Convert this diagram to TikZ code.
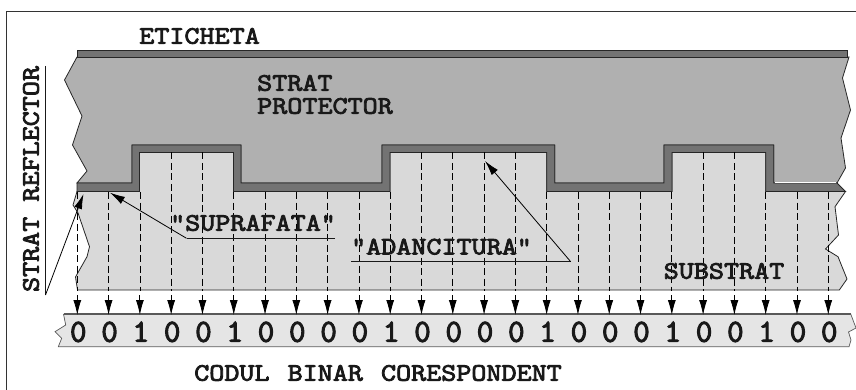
\documentclass[tikz,border=0pt]{standalone}
\usepackage{fontspec}
\newfontfamily\stampfont[FakeStretch=1.17,FakeBold=3.4]{Latin Modern Mono}
\newfontfamily\bitfont[FakeBold=3.4]{Latin Modern Mono}
\usetikzlibrary{arrows.meta}

\begin{document}
\begin{tikzpicture}[
        x=1pt,y=-1pt,
        >=Latex,
        edge/.style={draw=black!85,line width=0.8pt},
        label/.style={font=\stampfont\fontsize{25}{25}\selectfont,inner sep=0pt,text=black!90},
        digit/.style={font=\bitfont\fontsize{32}{32}\selectfont,inner sep=0pt,text=black!90},
        cell/.style={black,dashed,dash pattern=on 7pt off 3.5pt,line width=0.7pt},
        lead/.style={black!90,line width=0.8pt},
        pointer/.style={-{Latex[length=15pt,width=8pt]},black,line width=0.8pt}
    ]
        \useasboundingbox (0,0) rectangle (856,390);

        % frame
        \draw[black!80,line width=1pt] (6.5,390) -- (6.5,11.5) -- (856,11.5);

        % substrat
        \filldraw[edge,fill=black!15] (77,191.5) -- (73,205) -- (78,213) -- (89.5,246.7) -- (87,256.7)
            -- (75.5,277) -- (77.5,290) -- (839.3,290) -- (847,279) -- (838,256.7) -- (825.5,249)
            -- (838.5,235) -- (835,206.7) -- (845.5,191.5) -- (765.7,191.5) -- (765.7,152.5)
            -- (672,152.5) -- (672,191.5) -- (546.7,191.5) -- (546.7,152.5) -- (390,152.5) -- (390,191.5)
            -- (233.5,191.5) -- (233.5,152.5) -- (139.5,152.5) -- (139.5,191.5) -- cycle;

        % strat protector
        \filldraw[edge,fill=black!31] (77,57) -- (64.5,80) -- (82,116) -- (72.5,145) -- (87,171) -- (77,183)
            -- (132,183) -- (132,145) -- (241,145) -- (241,183) -- (382,183) -- (382,145)
            -- (554.7,145) -- (554.7,183) -- (664,183) -- (664,145) -- (773.7,145) -- (773.7,183)
            -- (837,183) -- (845.5,168) -- (841,138) -- (850.5,110) -- (842.5,78) -- (849,57) -- cycle;

        % strat reflector
        \filldraw[edge,fill=black!55] (77,183) -- (132,183) -- (132,145) -- (241,145) -- (241,183)
            -- (382,183) -- (382,145) -- (554.7,145) -- (554.7,183) -- (664,183) -- (664,145)
            -- (773.7,145) -- (773.7,183) -- (837,183) -- (845.5,191.5) -- (765.7,191.5) -- (765.7,152.5)
            -- (672,152.5) -- (672,191.5) -- (546.7,191.5) -- (546.7,152.5) -- (390,152.5) -- (390,191.5)
            -- (233.5,191.5) -- (233.5,152.5) -- (139.5,152.5) -- (139.5,191.5) -- (77,191.5) -- cycle;
        \draw[white,line width=0.7pt] (775,182.7) -- (836,182.7);

        % eticheta
        \filldraw[edge,fill=black!55] (77,50.7) rectangle (847.7,57);

        % banda cu codul
        \fill[black!10] (63.5,314) -- (65.7,325) -- (55,331.7) -- (61.7,338.3) -- (58.3,346.7) -- (849,346.7)
            -- (851,340) -- (848.5,332) -- (856,328) -- (850.7,314) -- cycle;
        \draw[black!65,line width=0.7pt] (63.5,314) -- (65.7,325) -- (55,331.7) -- (61.7,338.3) -- (58.3,346.7)
            -- (849,346.7) -- (851,340) -- (848.5,332) -- (856,328) -- (850.7,314);
        \draw[black!65,line width=1.3pt] (63.5,314) -- (850.7,314);

        % linii de celula
        \foreach \k/\ytop in {0/192,1/192,2/192,3/152.5,4/152.5,5/192,6/192,7/192,8/192,9/192,10/192,
                11/152.5,12/152.5,13/152.5,14/152.5,15/192,16/192,17/192,18/192,19/192,20/152.5,
                21/152.5,22/192,23/192,24/192} {
            \coordinate (top\k) at ({77.3+31.29*\k},\ytop);
            \coordinate (bot\k) at ({77.3+31.29*\k},291);
            \coordinate (arr\k) at ({77.3+31.29*\k},295);
            \coordinate (tip\k) at ({77.3+31.29*\k},315);
            \draw[cell] (top\k) -- (bot\k);
            \draw[pointer] (arr\k) -- (tip\k);
        }

        % cifre
        \foreach \k/\d in {0/0,1/0,2/1,3/0,4/0,5/1,6/0,7/0,8/0,9/0,10/1,11/0,12/0,13/0,14/0,15/1,
                16/0,17/0,18/0,19/1,20/0,21/0,22/1,23/0,24/0} {
            \node[digit,anchor=base] (bit\k) at ({78.3+31.29*\k},341.7) {\d};
        }

        % etichete
        \node[label] (eticheta) at (199.5,36) {ETICHETA};
        \node[label,anchor=west] (strat) at (257,83) {STRAT};
        \node[label,anchor=west] (protector) at (257,106) {PROTECTOR};
        \node[label,rotate=90] (reflector) at (31,179) {STRAT REFLECTOR};
        \node[label] (suprafata) at (253,223) {"SUPRAFATA"};
        \node[label] (adancitura) at (441.5,246.7) {"ADANCITURA"};
        \node[label] (substrat) at (724,271) {SUBSTRAT};
        \node[label] (codul) at (378,373) {CODUL \hspace{3pt}BINAR \hspace{3pt}CORESPONDENT};

        % indicatoare
        \coordinate (a1) at (45.5,66);
        \coordinate (a2) at (45.5,295);
        \coordinate (a3) at (83.5,194);
        \draw[lead] (a1) -- (a2);
        \draw[pointer] (a2) -- (a3);

        \coordinate (b1) at (335,238.3);
        \coordinate (b2) at (186.5,238.3);
        \coordinate (b3) at (110,192.7);
        \draw[lead] (b1) -- (b2);
        \draw[pointer] (b2) -- (b3);

        \coordinate (c1) at (351,261.7);
        \coordinate (c2) at (570.7,261.7);
        \coordinate (c3) at (485,161);
        \draw[lead] (c1) -- (c2);
        \draw[pointer] (c2) -- (c3);
    \end{tikzpicture}
\end{document}
